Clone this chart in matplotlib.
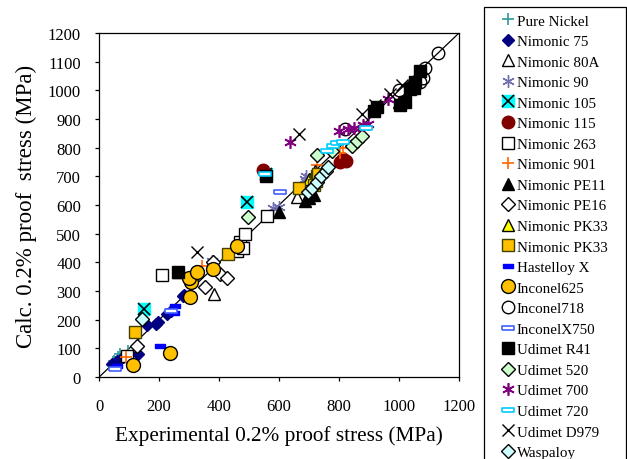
import numpy as np
import matplotlib
matplotlib.use("Agg")
from matplotlib import pyplot as plt
from matplotlib.patches import Rectangle

plt.rcParams["font.family"] = ["Liberation Serif", "DejaVu Serif"]

# (experimental, calculated) proof stress in MPa
pure_nickel_x = [50, 62, 70, 80, 95, 105]
pure_nickel_y = [55, 70, 80, 65, 90, 75]
nim75_x = [44, 60, 80, 131, 159, 198, 190, 225, 240, 281, 284]
nim75_y = [45, 55, 70, 80, 181, 191, 185, 220, 230, 284, 286]
nim80a_x = [383, 659, 700]
nim80a_y = [290, 627, 680]
nim90_x = [376, 600, 687, 690, 700, 580]
nim90_y = [406, 595, 690, 700, 680, 590]
nim105_x = [151, 493, 557]
nim105_y = [237, 610, 710]
nim115_x = [548, 803, 814, 822]
nim115_y = [722, 750, 760, 755]
nim263_x = [92, 210, 459, 470, 487, 480, 559]
nim263_y = [74, 355, 440, 470, 500, 450, 563]
nim901_x = [91, 342, 805, 812, 870, 725]
nim901_y = [70, 388, 780, 800, 870, 740]
pe11_x = [263, 601, 687, 715, 700, 1000]
pe11_y = [366, 577, 615, 634, 625, 960]
pe16_x = [126, 353, 403, 425, 380]
pe16_y = [107, 313, 359, 344, 400]
pk33_tri_x = [700, 720]
pk33_tri_y = [690, 720]
pk33_sq_x = [120, 431, 668, 723, 725, 730, 715]
pk33_sq_y = [157, 429, 658, 685, 700, 708, 670]
hast_x = [203, 251, 253, 60]
hast_y = [108, 223, 247, 40]
in625_x = [114, 237, 303, 306, 300, 328, 381, 459]
in625_y = [42, 83, 281, 332, 345, 365, 377, 458]
in718_x = [820, 1131, 1087, 1081, 1070, 1000]
in718_y = [865, 1130, 1077, 1042, 1029, 1000]
x750_x = [53, 603, 240]
x750_y = [30, 646, 230]
r41_x = [263, 557, 917, 927, 1003, 1020, 1037, 1053, 1070, 1050]
r41_y = [366, 702, 928, 942, 950, 960, 1005, 1030, 1069, 1010]
u520_x = [497, 726, 843, 860, 877, 775]
u520_y = [558, 774, 805, 822, 840, 790]
u700_x = [637, 830, 850, 880, 897, 963, 800]
u700_y = [820, 865, 870, 880, 882, 970, 860]
u720_x = [553, 780, 795, 813, 890, 760]
u720_y = [708, 805, 815, 820, 870, 790]
d979_x = [326, 667, 877, 920, 970, 1010]
d979_y = [437, 848, 917, 950, 987, 1020]
wasp_x = [143, 697, 710, 725, 740, 755, 763]
wasp_y = [202, 645, 660, 680, 700, 720, 733]

bar = [(-1, -0.32), (1, -0.32), (1, 0.32), (-1, 0.32), (-1, -0.32)]
asterisk = (6, 2, 0)

fig = plt.figure(figsize=(6.27, 4.6), dpi=100)
ax = fig.add_axes([0.158, 0.178, 0.574, 0.748])

ax.plot([0, 1200], [0, 1200], color="black", lw=0.9, zorder=1)

handles = []


def pts(x, y, **kw):
    h, = ax.plot(x, y, linestyle="none", **kw)
    handles.append(h)
    return h


pts(pure_nickel_x, pure_nickel_y, marker="+", color="#2E9A9A", ms=8, mew=1.2)
pts(nim75_x, nim75_y, marker="D", color="#000080", ms=6)
pts(nim80a_x, nim80a_y, marker="^", mfc="white", mec="black", ms=8)
pts(nim90_x, nim90_y, marker=asterisk, color="#7070B0", ms=9, mew=1)
sq105, = ax.plot(nim105_x, nim105_y, linestyle="none", marker="s", mfc="#00FFFF", mec="#00FFFF", ms=8)
x105, = ax.plot(nim105_x, nim105_y, linestyle="none", marker="x", color="black", ms=8, mew=1.2)
handles.append((sq105, x105))
pts(nim115_x, nim115_y, marker="o", color="#800000", ms=9)
pts(nim263_x, nim263_y, marker="s", mfc="white", mec="black", ms=8)
pts(nim901_x, nim901_y, marker="+", color="#FF6600", ms=9, mew=1.2)
pts(pe11_x, pe11_y, marker="^", color="black", ms=8)
pts(pe16_x, pe16_y, marker="D", mfc="white", mec="black", ms=7)
pts(pk33_tri_x, pk33_tri_y, marker="^", mfc="#FFFF00", mec="black", ms=8)
pts(pk33_sq_x, pk33_sq_y, marker="s", mfc="#FFC000", mec="#404000", ms=9)
pts(hast_x, hast_y, marker=bar, color="#0000FF", ms=7)
pts(in625_x, in625_y, marker="o", mfc="#FFC000", mec="black", ms=10)
pts(in718_x, in718_y, marker="o", mfc="none", mec="black", ms=9)
pts(x750_x, x750_y, marker=bar, mfc="white", mec="#4060FF", ms=9, mew=1.2)
pts(r41_x, r41_y, marker="s", color="black", ms=8)
pts(u520_x, u520_y, marker="D", mfc="#CCFFCC", mec="black", ms=7)
pts(u700_x, u700_y, marker=asterisk, color="#800080", ms=9, mew=1.2)
pts(u720_x, u720_y, marker=bar, mfc="white", mec="#00CCFF", ms=9, mew=1.2)
pts(d979_x, d979_y, marker="x", color="black", ms=8, mew=1)
pts(wasp_x, wasp_y, marker="D", mfc="#CCFFFF", mec="black", ms=7)

labels = ["Pure Nickel", "Nimonic 75", "Nimonic 80A", "Nimonic 90", "Nimonic 105",
          "Nimonic 115", "Nimonic 263", "Nimonic 901", "Nimonic PE11", "Nimonic PE16",
          "Nimonic PK33", "Nimonic PK33", "Hastelloy X", "Inconel625", "Inconel718",
          "InconelX750", "Udimet R41", "Udimet 520", "Udimet 700", "Udimet 720",
          "Udimet D979", "Waspaloy"]

ax.set_xlim(0, 1200)
ax.set_ylim(0, 1200)
ax.set_xticks(np.arange(0, 1201, 200))
ax.set_yticks(np.arange(0, 1201, 100))
ax.tick_params(direction="out", length=3, labelsize=12, width=0.9)
ax.tick_params(axis="x", pad=12)
ax.tick_params(axis="y", pad=10)
for s in ax.spines.values():
    s.set_linewidth(0.9)
ax.set_xlabel("Experimental 0.2% proof stress (MPa)", fontsize=15.3, labelpad=8)
ax.set_ylabel("Calc. 0.2% proof  stress (MPa)", fontsize=16.5, labelpad=8)

# legend frame drawn by hand, it runs off the bottom of the figure
fig.patches.append(Rectangle((484 / 627, -0.1), (626 - 484) / 627, 1.1 - 8 / 460,
                             transform=fig.transFigure, fill=False, edgecolor="black", lw=0.9))
fig.legend(handles, labels, loc="upper left", bbox_to_anchor=(500.5 / 627, 1 - 15 / 460),
           fontsize=10.8, frameon=False, handlelength=1.0, handletextpad=0.1,
           labelspacing=0.47, borderpad=0, borderaxespad=0, numpoints=1)

fig.savefig("out.png", dpi=100)
